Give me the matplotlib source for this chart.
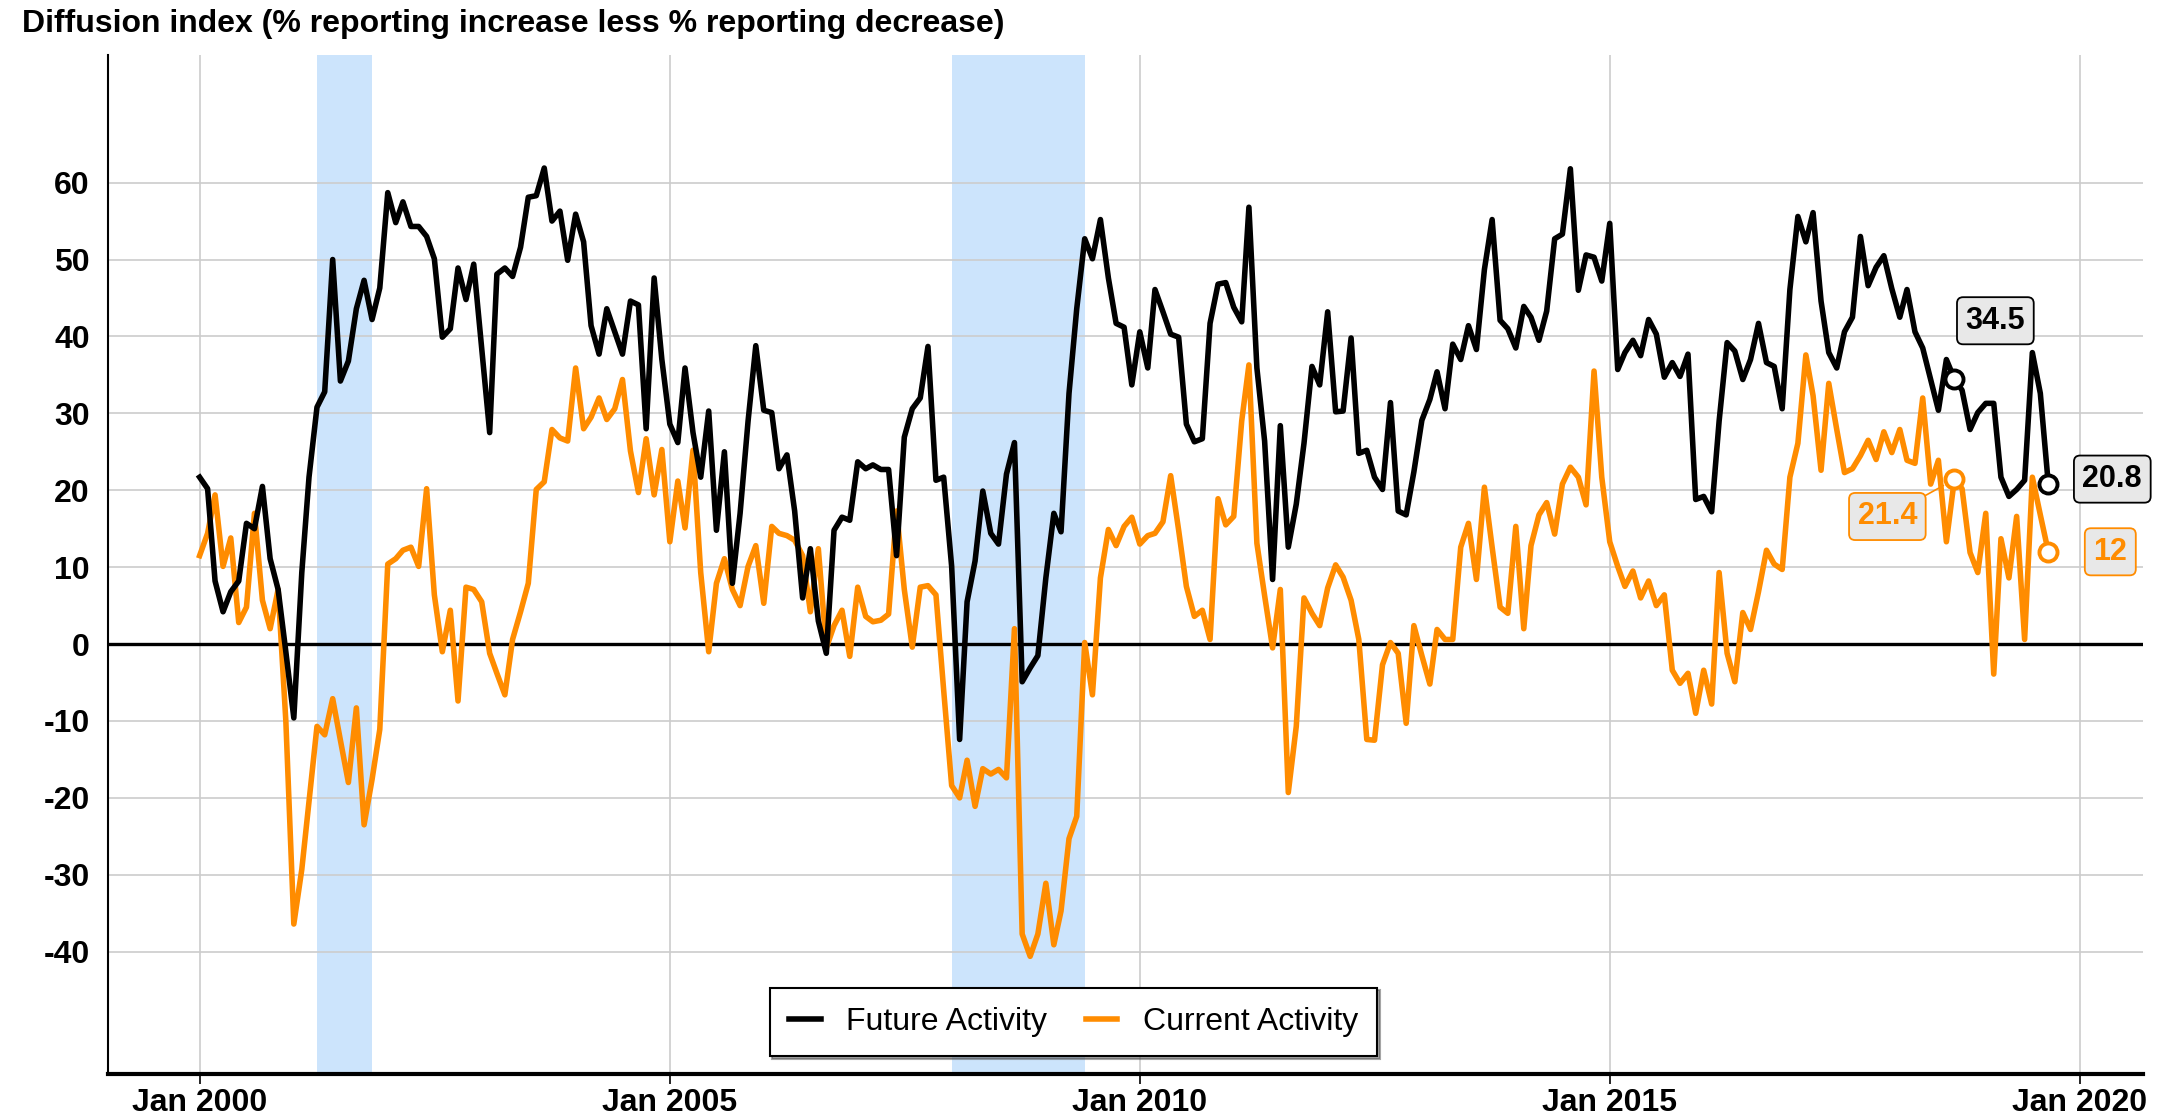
import numpy as np
import pandas as pd
import matplotlib
matplotlib.use('Agg')
import matplotlib.pyplot as plt
import matplotlib.dates as mdates
from matplotlib.lines import Line2D

plt.rcParams['font.family'] = ['Liberation Sans', 'DejaVu Sans']

# monthly diffusion index, Jan 2000 - Sep 2019
future_activity = [
    21.7, 20.2, 8.2, 4.2, 6.8, 8.2, 15.7, 15.0, 20.5, 11.1, 7.1, -1.0,
    -9.6, 9.3, 21.7, 30.8, 32.8, 50.0, 34.2, 36.8, 43.6, 47.3, 42.2, 46.3,
    58.7, 54.8, 57.5, 54.3, 54.3, 53.0, 50.1, 39.9, 41.0, 48.9, 44.8, 49.4,
    38.5, 27.5, 48.1, 48.9, 47.8, 51.6, 58.1, 58.3, 61.9, 55.0, 56.3, 49.9,
    55.9, 52.3, 41.4, 37.7, 43.6, 40.6, 37.7, 44.6, 44.1, 28.0, 47.6, 37.0,
    28.6, 26.2, 35.9, 27.5, 21.7, 30.3, 14.8, 25.0, 7.9, 17.0, 29.0, 38.8,
    30.4, 30.1, 22.8, 24.6, 17.3, 6.0, 12.4, 3.0, -1.2, 14.8, 16.5, 16.1,
    23.7, 22.8, 23.3, 22.7, 22.7, 11.5, 26.9, 30.6, 32.0, 38.7, 21.3, 21.7,
    10.1, -12.4, 5.5, 10.8, 19.9, 14.4, 13.0, 22.1, 26.2, -4.9, -3.1, -1.5,
    8.6, 17.0, 14.6, 32.6, 43.6, 52.7, 50.1, 55.2, 47.6, 41.7, 41.2, 33.7,
    40.6, 35.9, 46.1, 43.2, 40.3, 39.9, 28.6, 26.3, 26.7, 41.7, 46.8, 47.0,
    43.8, 41.9, 56.8, 35.9, 26.4, 8.4, 28.4, 12.6, 18.2, 26.1, 36.1, 33.7,
    43.2, 30.2, 30.3, 39.8, 24.8, 25.2, 21.7, 20.1, 31.4, 17.3, 16.8, 22.4,
    29.1, 31.8, 35.4, 30.6, 39.0, 37.0, 41.4, 38.3, 48.7, 55.2, 42.1, 41.0,
    38.5, 43.9, 42.5, 39.5, 43.3, 52.7, 53.3, 61.8, 46.0, 50.6, 50.3, 47.2,
    54.7, 35.7, 37.9, 39.5, 37.5, 42.2, 40.3, 34.7, 36.6, 34.8, 37.7, 18.8,
    19.2, 17.2, 29.0, 39.2, 38.1, 34.4, 37.0, 41.7, 36.6, 36.1, 30.6, 46.1,
    55.6, 52.3, 56.1, 44.6, 37.9, 35.9, 40.6, 42.5, 53.0, 46.6, 49.0, 50.5,
    46.2, 42.5, 46.1, 40.6, 38.5, 34.4, 30.4, 37.0, 34.5, 33.0, 27.9, 30.1,
    31.3, 31.3, 21.7, 19.2, 20.1, 21.3, 37.9, 32.6, 20.8,
]
current_activity = [
    11.5, 14.4, 19.4, 10.1, 13.8, 2.8, 4.8, 17.0, 5.7, 2.0, 7.1, -10.0,
    -36.4, -29.3, -20.5, -10.7, -11.8, -7.1, -12.5, -18.0, -8.3, -23.5, -17.6, -11.1,
    10.4, 11.1, 12.2, 12.6, 10.1, 20.2, 6.4, -1.0, 4.4, -7.4, 7.4, 7.1,
    5.5, -1.2, -3.8, -6.6, 0.6, 4.2, 7.9, 20.1, 21.1, 27.9, 26.8, 26.4,
    35.9, 28.0, 29.5, 32.0, 29.2, 30.6, 34.4, 25.1, 19.7, 26.7, 19.4, 25.3,
    13.3, 21.2, 15.1, 25.2, 9.3, -1.0, 7.9, 11.1, 7.1, 5.0, 10.1, 12.8,
    5.3, 15.3, 14.4, 14.1, 13.5, 11.5, 4.2, 12.4, -0.5, 2.4, 4.4, -1.6,
    7.4, 3.6, 2.9, 3.1, 3.9, 17.3, 7.1, -0.4, 7.4, 7.6, 6.4, -6.0,
    -18.4, -20.0, -15.1, -21.1, -16.2, -16.9, -16.3, -17.4, 2.0, -37.7, -40.6, -37.7,
    -31.1, -39.1, -34.7, -25.3, -22.4, 0.2, -6.6, 8.6, 14.9, 12.8, 15.3, 16.5,
    13.0, 14.1, 14.4, 15.9, 21.9, 14.8, 7.5, 3.6, 4.4, 0.6, 18.9, 15.5,
    16.6, 29.0, 36.3, 13.1, 6.3, -0.5, 7.1, -19.3, -10.7, 6.0, 4.0, 2.4,
    7.3, 10.3, 8.7, 5.7, 0.6, -12.4, -12.5, -2.7, 0.2, -1.2, -10.3, 2.4,
    -1.5, -5.2, 1.9, 0.6, 0.6, 12.6, 15.7, 8.4, 20.4, 12.6, 4.8, 4.0,
    15.3, 2.0, 12.8, 16.8, 18.4, 14.3, 20.8, 23.0, 21.7, 18.1, 35.5, 21.7,
    13.3, 10.1, 7.5, 9.5, 6.0, 8.2, 5.0, 6.4, -3.4, -5.1, -3.8, -9.0,
    -3.4, -7.8, 9.3, -1.2, -4.9, 4.1, 1.9, 6.8, 12.2, 10.4, 9.7, 21.7,
    26.1, 37.6, 32.3, 22.6, 33.9, 27.9, 22.3, 22.8, 24.5, 26.5, 24.0, 27.6,
    24.9, 27.9, 23.9, 23.5, 32.0, 20.8, 23.9, 13.3, 21.4, 20.2, 11.9, 9.3,
    17.0, -3.9, 13.7, 8.6, 16.6, 0.6, 21.7, 16.8, 12.0,
]
recessions = [('2001-04-01', '2001-11-01'), ('2008-01-01', '2009-06-01')]
tick_years = [2000, 2005, 2010, 2015, 2020]
y_ticks = [-40, -30, -20, -10, 0, 10, 20, 30, 40, 50, 60]

dates = pd.date_range('2000-01-01', periods=len(future_activity), freq='MS')
orange = '#ff8c00'

fig = plt.figure(figsize=(21.73, 11.17), dpi=100)
ax = fig.add_axes([0.0497, 0.0385, 0.9365, 0.9123])

for start, end in recessions:
    ax.axvspan(pd.Timestamp(start), pd.Timestamp(end), color='#cce4fc', zorder=0, lw=0)

ax.grid(True, color='#cccccc', lw=1.2, zorder=1)
ax.set_axisbelow(True)
ax.axhline(0, color='black', lw=2.4, zorder=2)

ax.plot(dates, future_activity, color='black', lw=4, zorder=4, solid_joinstyle='round')
ax.plot(dates, current_activity, color=orange, lw=4, zorder=3, solid_joinstyle='round')

ax.set_ylim(-55.9, 76.6)
ax.set_xlim(pd.Timestamp('1999-01-10'), pd.Timestamp('2020-09-03'))
ax.set_yticks(y_ticks)
ax.set_yticklabels([str(v) for v in y_ticks])
ax.set_xticks([pd.Timestamp(f'{y}-01-01') for y in tick_years])
ax.set_xticklabels([f'Jan {y}' for y in tick_years])
ax.tick_params(axis='y', length=0, pad=13, labelsize=23)
ax.tick_params(axis='x', length=7, width=1.2, pad=3, labelsize=23)
for lab in ax.get_xticklabels() + ax.get_yticklabels():
    lab.set_fontweight('bold')

ax.spines['top'].set_visible(False)
ax.spines['right'].set_visible(False)
ax.spines['left'].set_linewidth(1.5)
ax.spines['bottom'].set_linewidth(3)

fig.text(22 / 2173, 1 - 24 / 1117, 'Diffusion index (% reporting increase less % reporting decrease)',
         fontsize=23, fontweight='bold', ha='left', va='center')

# highlighted points
i_prev = len(dates) - 13
i_last = len(dates) - 1
for idx, series, col in [(i_prev, future_activity, 'black'), (i_last, future_activity, 'black'),
                         (i_prev, current_activity, orange), (i_last, current_activity, orange)]:
    ax.plot(dates[idx], series[idx], 'o', ms=13, mfc='white', mec=col, mew=2.8, zorder=6, clip_on=False)

def label(idx, series, col, dx, dy, arrow=False):
    val = series[idx]
    txt = f'{val:g}'
    kw = dict(arrowprops=dict(arrowstyle='-', color=col, lw=1.2, shrinkA=0, shrinkB=9)) if arrow else {}
    ax.annotate(txt, (dates[idx], val), xytext=(dx, dy), textcoords='offset pixels',
                ha='center', va='center', fontsize=22, fontweight='bold', color=col,
                bbox=dict(boxstyle='round,pad=0.28,rounding_size=0.2', fc='#e8e8e8', ec=col, lw=1.3),
                zorder=7, annotation_clip=False, **kw)

label(i_prev, future_activity, 'black', 41, 58)
label(i_last, future_activity, 'black', 64, 5)
label(i_prev, current_activity, orange, -67, -37, arrow=True)
label(i_last, current_activity, orange, 62, 0)

handles = [Line2D([], [], color='black', lw=4), Line2D([], [], color=orange, lw=4)]
leg = ax.legend(handles, ['Future Activity', 'Current Activity'], ncol=2, loc='lower center',
                bbox_to_anchor=(1073.5 / 2173, 0.0546), bbox_transform=fig.transFigure,
                borderaxespad=0, fontsize=23, frameon=True, fancybox=False, shadow=True,
                handlelength=1.0, handletextpad=0.8, columnspacing=1.2, borderpad=0.6)
leg.get_frame().set_edgecolor('black')
leg.get_frame().set_linewidth(1.5)
leg.set_zorder(10)

fig.savefig('out.png', dpi=100)
